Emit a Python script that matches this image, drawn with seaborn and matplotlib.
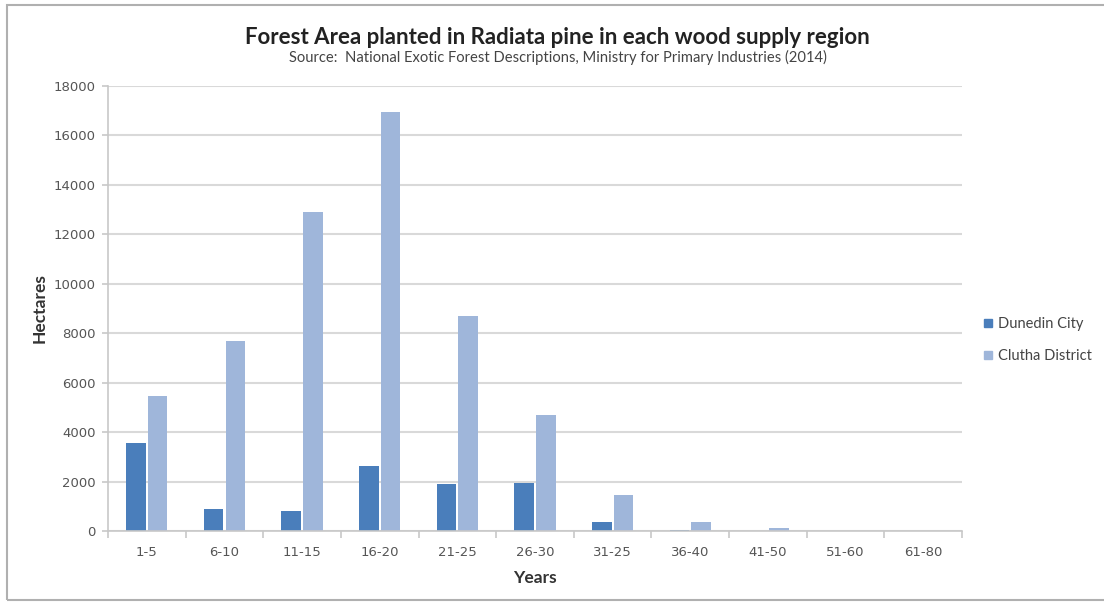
import matplotlib
matplotlib.use("Agg")
import matplotlib.pyplot as plt
from matplotlib.patches import Rectangle
from matplotlib.lines import Line2D
import numpy as np
import pandas as pd
import seaborn as sns

# Age classes (years) and planted area (hectares) per wood supply region
age_classes = ["1-5", "6-10", "11-15", "16-20", "21-25", "26-30",
               "31-25", "36-40", "41-50", "51-60", "61-80"]
dunedin_city = [3550, 900, 800, 2630, 1900, 1960, 370, 40, 10, 0, 0]
clutha_district = [5450, 7700, 12900, 16950, 8700, 4700, 1450, 360, 120, 10, 0]
series_names = ["Dunedin City", "Clutha District"]
y_ticks = [0, 2000, 4000, 6000, 8000, 10000, 12000, 14000, 16000, 18000]

colors = ["#4a7ebb", "#9fb6da"]

df = pd.DataFrame({
    "Years": age_classes * 2,
    "Hectares": dunedin_city + clutha_district,
    "Region": [series_names[0]] * len(age_classes) + [series_names[1]] * len(age_classes),
})

sns.set_theme(style="white")
plt.rcParams["font.family"] = ["Lato", "DejaVu Sans"]

fig = plt.figure(figsize=(11.04, 6.03), dpi=100)
ax = fig.add_axes([0.0978, 0.1194, 0.7736, 0.738])

sns.barplot(data=df, x="Years", y="Hectares", hue="Region", order=age_classes,
            hue_order=series_names, palette=colors, width=0.56, gap=0.1,
            saturation=1, linewidth=0, ax=ax, legend=False)

ax.set_xlim(-0.5, len(age_classes) - 0.5)
ax.set_ylim(0, 18000)
ax.set_yticks(y_ticks)
ax.set_yticklabels([str(v) for v in y_ticks])
ax.set_xticks(range(len(age_classes)))
ax.set_xticklabels(age_classes)
ax.yaxis.grid(True, color="#d9d9d9", linewidth=1.5)
ax.set_axisbelow(True)

for side in ["top", "right"]:
    ax.spines[side].set_visible(False)
for side in ["left", "bottom"]:
    ax.spines[side].set_color("#c8c8c8")
    ax.spines[side].set_linewidth(1.2)

ax.tick_params(axis="both", which="major", labelsize=9.5, labelcolor="#555555",
               labelfontfamily="DejaVu Sans")
ax.tick_params(axis="y", which="major", length=4, color="#c8c8c8", width=1.2,
               pad=5, left=True)
ax.tick_params(axis="x", which="major", length=0, pad=11)
ax.set_xticks(np.arange(-0.5, len(age_classes), 1.0), minor=True)
ax.tick_params(axis="x", which="minor", length=5, color="#c8c8c8", width=1.2,
               bottom=True)

ax.set_xlabel("Years", fontsize=12.5, fontweight="bold", color="#333333", labelpad=8)
ax.set_ylabel("Hectares", fontsize=12.5, fontweight="bold", color="#333333", labelpad=4)

fig.text(0.505, 0.938, "Forest Area planted in Radiata pine in each wood supply region",
         ha="center", va="center", fontsize=16, fontweight="bold", color="#222222")
fig.text(0.505, 0.905, "Source:  National Exotic Forest Descriptions, Ministry for Primary Industries (2014)",
         ha="center", va="center", fontsize=10.6, color="#444444")

handles = [Line2D([0], [0], marker="s", linestyle="none", markersize=6,
                  markerfacecolor=c, markeredgecolor=c) for c in colors]
fig.legend(handles, series_names, loc="center left", bbox_to_anchor=(0.876, 0.436),
           frameon=False, fontsize=10.5, labelcolor="#444444", handletextpad=0.2,
           labelspacing=1.2, handlelength=1.0)

# thin grey frame around the whole chart
fig.patches.append(Rectangle((7 / 1104, 3 / 603), 1.2, 595 / 603, transform=fig.transFigure,
                             fill=False, edgecolor="#b0b0b0", linewidth=1.5))

fig.savefig("out.png", dpi=100)
